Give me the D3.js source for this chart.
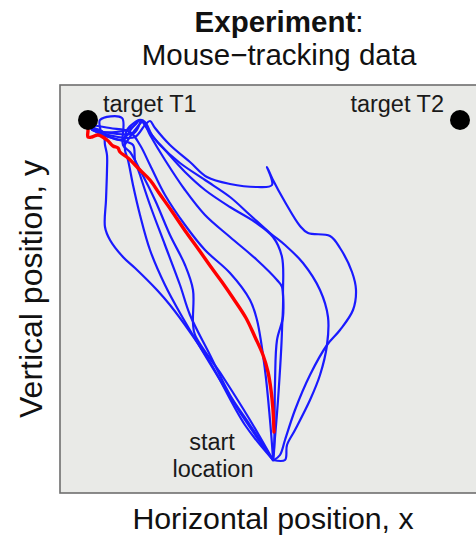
<!DOCTYPE html>
<html>
<head>
<meta charset="utf-8">
<script src="https://cdn.jsdelivr.net/npm/d3@7"></script>
<style>
  html, body { margin: 0; padding: 0; background: #ffffff; }
  svg { display: block; font-family: "Liberation Sans", Arial, Helvetica, sans-serif; }
</style>
</head>
<body>
<svg id="chart" width="476" height="540"></svg>
<script>
// ---- data (x: horizontal offset from start, y: vertical distance from start) ----
const titleBold = "Experiment";
const titleRest = ":";
const subtitle = "Mouse\u2212tracking data";
const xLabel = "Horizontal position, x";
const yLabel = "Vertical position, y";

const targets = [
  { name: "target T1", x: -186, y: 340 },
  { name: "target T2", x: 186, y: 340 }
];
const startLabel = ["start", "location"];

// mean trajectory (red)
const meanTrajectory = [
  [0,28],[-1,50],[-3,70],[-6,88],[-11,105],[-19,123],[-28,142],[-41,162],[-52,178],[-63,193],
  [-75,210],[-88,228],[-103,250],[-115,267],[-124,280],[-134,290],[-146,302],[-154,308],
  [-156,312],[-161,314],[-167,320],[-176,325],[-182,323],[-186,323],[-186,330],[-187,340]
];

// individual trials (blue)
const trial1 = [[0,0],[6,5],[11,20],[21,50],[36,85],[53,115],[66,130],[79,150],[82,170],[78,188],
  [66,212],[56,224],[34,227],[26,234],[11,258],[-1,280],[-7,293],[-2,275],[-17,273],[-44,276],
  [-67,283],[-84,298],[-104,315],[-119,332],[-124,339],[-129,335],[-139,323],[-156,323],[-174,328],[-182,333]];
const trial2 = [[-1,0],[11,0],[13,15],[21,30],[36,60],[46,85],[53,115],[54,143],[46,170],[29,197],
  [11,215],[-4,227],[-24,245],[-44,263],[-69,280],[-94,297],[-114,315],[-126,330],[-134,340],
  [-142,332],[-152,320],[-169,325],[-182,330]];
const trial3 = [[-1,0],[0,8],[1,77],[3,120],[9,143],[9,167],[8,203],[-1,223],[-19,238],[-44,253],
  [-69,270],[-89,288],[-109,310],[-122,325],[-129,338],[-134,340],[-139,335],[-147,330],[-171,328],[-182,333]];
const trial4 = [[-1,0],[4,60],[8,130],[8,173],[3,180],[-17,200],[-44,223],[-69,245],[-89,270],
  [-109,300],[-124,325],[-131,338],[-139,330],[-150,314]];
const trial5 = [[-1,2],[-4,40],[-9,90],[-17,140],[-24,160],[-44,187],[-69,210],[-89,235],[-109,265],
  [-124,295],[-134,315],[-144,328],[-164,332],[-182,335]];
const trial6 = [[-1,0],[-24,40],[-51,83],[-79,125],[-81,137],[-81,170],[-89,195],[-104,225],[-119,260],
  [-134,290],[-144,308],[-151,315],[-152,342],[-174,340],[-174,328],[-184,332]];
const trial7 = [[-1,0],[-29,40],[-54,80],[-94,147],[-109,175],[-124,210],[-134,245],[-141,275],
  [-146,300],[-149,310],[-147,330],[-134,340],[-140,327],[-171,328],[-182,331]];
const trial8 = [[-1,0],[-24,35],[-44,65],[-64,105],[-84,145],[-94,175],[-109,215],[-124,255],
  [-134,285],[-139,300],[-141,315],[-154,320],[-169,324],[-181,330]];
const trial9 = [[-1,0],[-29,35],[-64,98],[-84,128],[-104,155],[-117,170],[-139,192],[-151,203],
  [-164,220],[-169,233],[-168,260],[-167,290],[-167,305],[-169,315],[-171,328],[-182,332]];
const trials = [trial1, trial2, trial3, trial4, trial5, trial6, trial7, trial8, trial9];

// ---- layout ----
const svg = d3.select("#chart");
const panel = { left: 60, top: 85, right: 488, bottom: 493 };

const x = d3.scaleLinear().domain([-214, 214]).range([panel.left, panel.right]);
const y = d3.scaleLinear().domain([-33, 375]).range([panel.bottom, panel.top]);

// panel
svg.append("rect")
  .attr("x", panel.left).attr("y", panel.top)
  .attr("width", panel.right - panel.left).attr("height", panel.bottom - panel.top)
  .attr("fill", "#e9eae7").attr("stroke", "#6e6e6e").attr("stroke-width", 1.6);

const line = d3.line().x(d => x(d[0])).y(d => y(d[1])).curve(d3.curveCatmullRom.alpha(0.5));

const g = svg.append("g");
g.selectAll("path.trial").data(trials).join("path")
  .attr("class", "trial")
  .attr("d", line)
  .attr("fill", "none").attr("stroke", "#1a1aff").attr("stroke-width", 2.2)
  .attr("stroke-linejoin", "round").attr("stroke-linecap", "round");

g.append("path").datum(meanTrajectory)
  .attr("d", line)
  .attr("fill", "none").attr("stroke", "#ff0000").attr("stroke-width", 3.4)
  .attr("stroke-linejoin", "round").attr("stroke-linecap", "round");

// targets
g.selectAll("circle.target").data(targets).join("circle")
  .attr("class", "target")
  .attr("cx", d => x(d.x)).attr("cy", d => y(d.y)).attr("r", 10)
  .attr("fill", "#000");

svg.append("text").attr("x", x(targets[0].x) + 15).attr("y", y(targets[0].y) - 8)
  .attr("font-size", 23.5).attr("fill", "#1a1a1a").text(targets[0].name);
svg.append("text").attr("x", x(targets[1].x) - 16).attr("y", y(targets[1].y) - 8)
  .attr("text-anchor", "end")
  .attr("font-size", 23.5).attr("fill", "#1a1a1a").text(targets[1].name);

// start location label
svg.append("text").attr("x", x(-62)).attr("y", y(10))
  .attr("text-anchor", "middle").attr("font-size", 23.5).attr("fill", "#1a1a1a").text(startLabel[0]);
svg.append("text").attr("x", x(-61)).attr("y", y(-17))
  .attr("text-anchor", "middle").attr("font-size", 23.5).attr("fill", "#1a1a1a").text(startLabel[1]);

// titles
const t1 = svg.append("text").attr("x", 279).attr("y", 32).attr("text-anchor", "middle")
  .attr("font-size", 29.5).attr("fill", "#111");
t1.append("tspan").attr("font-weight", "bold").text(titleBold);
t1.append("tspan").text(titleRest);
svg.append("text").attr("x", 279).attr("y", 65).attr("text-anchor", "middle")
  .attr("font-size", 29.5).attr("fill", "#111").text(subtitle);

// axis labels
svg.append("text").attr("x", 273).attr("y", 529).attr("text-anchor", "middle")
  .attr("font-size", 30.3).attr("fill", "#111").text(xLabel);
svg.append("text").attr("transform", "translate(42,289) rotate(-90)").attr("text-anchor", "middle")
  .attr("font-size", 32).attr("fill", "#111").text(yLabel);
</script>
</body>
</html>
